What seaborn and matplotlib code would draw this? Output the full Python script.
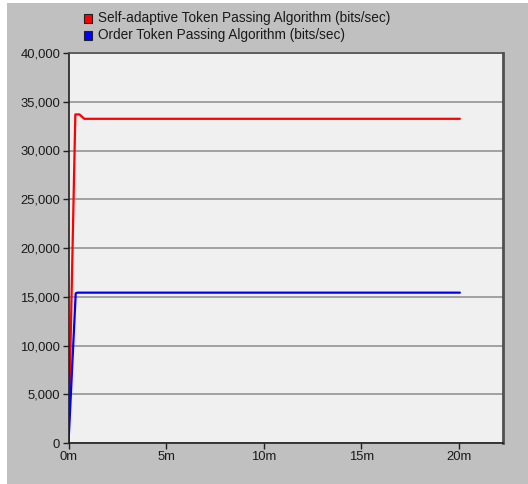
import numpy as np
import pandas as pd
import matplotlib
matplotlib.use("Agg")
import matplotlib.pyplot as plt
import seaborn as sns
from matplotlib.patches import Rectangle
from matplotlib.ticker import FuncFormatter

# series (time in minutes, throughput in bits/sec)
self_adaptive_t = [0.0, 0.35, 0.56, 0.81, 20.05]
self_adaptive_v = [0, 33700, 33700, 33250, 33250]
order_t = [0.0, 0.37, 0.45, 20.05]
order_v = [0, 15350, 15420, 15420]

series_names = ["Self-adaptive Token Passing Algorithm (bits/sec)",
                "Order Token Passing Algorithm (bits/sec)"]
series_colors = ["#ff0000", "#0000ff"]

x_ticks = [0, 5, 10, 15, 20]
y_ticks = [0, 5000, 10000, 15000, 20000, 25000, 30000, 35000, 40000]

df = pd.concat([
    pd.DataFrame({"t": self_adaptive_t, "v": self_adaptive_v, "series": series_names[0]}),
    pd.DataFrame({"t": order_t, "v": order_v, "series": series_names[1]}),
], ignore_index=True)

sns.set_theme(style="white")
plt.rcParams['font.family'] = ['Liberation Sans', 'DejaVu Sans']

fig = plt.figure(figsize=(5.28, 4.84), dpi=100)
fig.patch.set_facecolor("white")
# grey panel behind everything, white strip on the left/top edge
fig.patches.append(Rectangle((7 / 528, 0), 1, 1 - 3 / 484, transform=fig.transFigure,
                             facecolor="#c0c0c0", edgecolor="none", zorder=-10))

ax = fig.add_axes([68.5 / 528, 1 - 443 / 484, (503 - 68.5) / 528, (443 - 53) / 484])
ax.set_facecolor("#f0f0f0")

sns.lineplot(data=df, x="t", y="v", hue="series", palette=series_colors,
             hue_order=series_names, linewidth=1.6, sort=False, ax=ax, legend=False)

ax.set_xlim(0, 22.26)
ax.set_ylim(0, 40000)
ax.set_xticks(x_ticks)
ax.set_yticks(y_ticks)
ax.xaxis.set_major_formatter(FuncFormatter(lambda v, p: f"{int(v)}m"))
ax.yaxis.set_major_formatter(FuncFormatter(lambda v, p: f"{int(v):,}"))
ax.yaxis.grid(True, color="#8c8c8c", linewidth=1.1)
ax.xaxis.grid(False)
ax.set_axisbelow(True)
ax.set_xlabel("")
ax.set_ylabel("")

ax.tick_params(axis="both", direction="out", length=4, width=1, color="#202020",
               labelsize=9.4, labelcolor="#1a1a1a", pad=2,
               bottom=True, left=True)
for side in ["left", "bottom"]:
    ax.spines[side].set_color("#202020")
    ax.spines[side].set_linewidth(1.2)
for side in ["right", "top"]:
    ax.spines[side].set_color("#505050")
    ax.spines[side].set_linewidth(2)
ax.spines["top"].set_linewidth(1.2)

# legend above the plot, top-left
for i, (name, col) in enumerate(zip(series_names, series_colors)):
    y = 1 - (18 + 17 * i) / 484
    fig.patches.append(Rectangle((84 / 528, y - 4.5 / 484), 8 / 528, 9 / 484,
                                 transform=fig.transFigure, facecolor=col,
                                 edgecolor="#202020", linewidth=0.8))
    fig.text(97.5 / 528, y, name, fontsize=9.8, color="#1a1a1a", va="center", ha="left")

fig.savefig("out.png", dpi=100)
